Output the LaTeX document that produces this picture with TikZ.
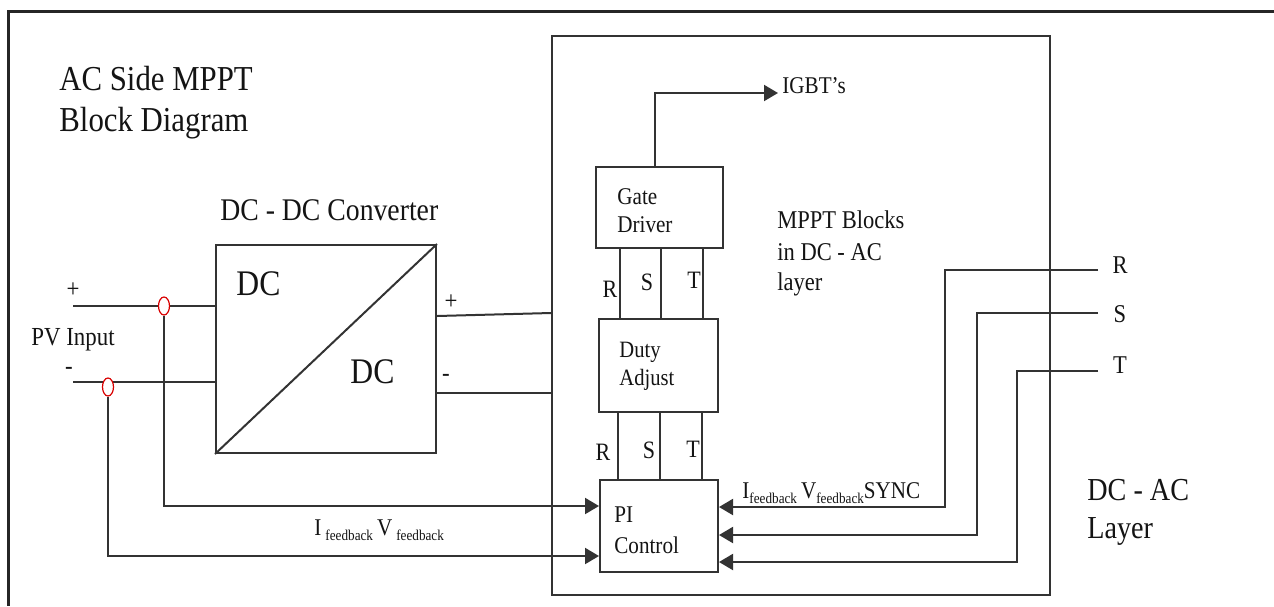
\documentclass[tikz,border=0pt]{standalone}
\usepackage{fontspec}
\setmainfont{Liberation Serif}[FakeStretch=0.88]
\usetikzlibrary{arrows.meta,fit,shapes.geometric}
\newcommand{\fsz}[1]{\fontsize{#1}{#1}\selectfont}
\newcommand{\sbx}[1]{\raisebox{-2.5pt}{\fontsize{7.5}{7.5}\selectfont #1}}
\begin{document}
\begin{tikzpicture}[x=0.5pt,y=-0.5pt,
  wire/.style={draw=black!80,line width=1pt},
  arr/.style={wire,-{Triangle[length=7pt,width=8pt]}},
  blk/.style={draw=black!80,line width=1pt,inner sep=0pt},
  lbl/.style={inner sep=0pt,anchor=base west,text=black!92},
  lblc/.style={inner sep=0pt,anchor=base,text=black!92},
  ring/.style={ellipse,draw=red!85!black,line width=0.6pt,fill=white,minimum width=5.5pt,minimum height=9pt,inner sep=0pt},
]
\useasboundingbox (0,0) rectangle (1274,606);
\fill[white] (0,0) rectangle (1274,606);
% outer frame (only top and left edges visible)
\coordinate (fTR) at (1274,11);
\coordinate (fTL) at (8,11);
\coordinate (fBL) at (8,606);
\draw[line width=1.5pt,black!85] (fTR) -- (fTL) -- (fBL);

% blocks
\node[blk,fit={(216,245)(436,453)}] (dcdc) {};
\node[blk,fit={(552,36)(1050,595)}] (mppt) {};
\node[blk,fit={(596,167)(723,248)}] (gate) {};
\node[blk,fit={(599,319)(718,412)}] (duty) {};
\node[blk,fit={(600,480)(718,572)}] (pi) {};
\draw[wire] (dcdc.south west) -- (dcdc.north east);

% helper coordinates
\coordinate (pinP) at (73,306);
\coordinate (pinN) at (73,382);
\coordinate (hI) at (0,506);
\coordinate (hV) at (0,556);
\coordinate (hOP1) at (0,316);
\coordinate (hOP2) at (0,313);
\coordinate (hON) at (0,393);
\coordinate (Rout) at (1098,270);
\coordinate (Sout) at (1098,313);
\coordinate (Tout) at (1098,371);
\coordinate (Rx) at (945,507);
\coordinate (Sx) at (977,535);
\coordinate (Tx) at (1017,562);

% PV input lines
\draw[wire] (pinP) -- (pinP -| dcdc.west);
\draw[wire] (pinN) -- (pinN -| dcdc.west);
\node[ring] (cI) at (164,306) {};
\node[ring] (cV) at (108,387) {};
\draw[arr] (cI.south) |- (pi.west |- hI);
\draw[arr] (cV.south) |- (pi.west |- hV);

% DC outputs
\draw[wire] (dcdc.east |- hOP1) -- (mppt.west |- hOP2);
\draw[wire] (dcdc.east |- hON) -- (mppt.west |- hON);

% R S T between blocks
\foreach \xx in {620,661,703}
  \draw[wire] (gate.south -| \xx,0) -- (duty.north -| \xx,0);
\foreach \xx in {618,660,702}
  \draw[wire] (duty.south -| \xx,0) -- (pi.north -| \xx,0);

% grid feedback
\draw[arr] (Rout) -| (Rx) -- (pi.east |- Rx);
\draw[arr] (Sout) -| (Sx) -- (pi.east |- Sx);
\draw[arr] (Tout) -| (Tx) -- (pi.east |- Tx);

% texts
\node[lbl,font=\fsz{17.5}] (t1) at (59,90) {AC Side MPPT};
\node[lbl,font=\fsz{17.5}] (t2) at (59,131) {Block Diagram};
\node[lbl,font=\fsz{15.75}] (t3) at (220,220) {DC - DC Converter};
\node[lbl,font=\fsz{18}] (dc1) at (236,295) {DC};
\node[lbl,font=\fsz{18}] (dc2) at (350,383) {DC};
\node[inner sep=0pt,font=\fsz{13},text=black!92] (pvp) at (73,290) {+};
\node[inner sep=0pt,font=\fsz{13},text=black!92] (pvm) at (69,371) {-};
\node[lbl,font=\fsz{13}] (pv) at (31,345) {PV Input};
\node[inner sep=0pt,font=\fsz{13},text=black!92] (op) at (451,302) {+};
\node[inner sep=0pt,font=\fsz{13},text=black!92] (om) at (446,378) {-};
\node[lbl,font=\fsz{12}] (fb1) at (314,535) {I\,\sbx{feedback}\,V\,\sbx{feedback}};
\node[lbl,font=\fsz{12}] (g1) at (617,204) {Gate};
\node[lbl,font=\fsz{12}] (g2) at (617,232) {Driver};
\node[lbl,font=\fsz{11.7}] (d1) at (619,357) {Duty};
\node[lbl,font=\fsz{11.7}] (d2) at (619,385) {Adjust};
\node[lbl,font=\fsz{12}] (p1) at (614,522) {PI};
\node[lbl,font=\fsz{12}] (p2) at (614,553) {Control};
\node[lbl,font=\fsz{12.8}] (m1) at (777,228) {MPPT Blocks};
\node[lbl,font=\fsz{12.8}] (m2) at (777,260) {in DC - AC};
\node[lbl,font=\fsz{12.8}] (m3) at (777,290) {layer};
\node[lbl,font=\fsz{12}] (igbt) at (782,93) {IGBT's};
\draw[arr] ([xshift=-2.5pt]gate.north) |- ([xshift=-2pt]igbt.base west);
\node[lblc,font=\fsz{12.5}] (ru) at (610,297) {R};
\node[lblc,font=\fsz{12.5}] (su) at (647,290) {S};
\node[lblc,font=\fsz{12.5}] (tu) at (694,288) {T};
\node[lblc,font=\fsz{12.5}] (rl) at (603,460) {R};
\node[lblc,font=\fsz{12.5}] (sl) at (649,458) {S};
\node[lblc,font=\fsz{12.5}] (tl) at (693,457) {T};
\node[lblc,font=\fsz{12.8}] (rr) at (1120,273) {R};
\node[lblc,font=\fsz{12.8}] (sr) at (1120,322) {S};
\node[lblc,font=\fsz{12.8}] (tr) at (1120,373) {T};
\node[lbl,font=\fsz{12}] (sync) at (742,498) {I\sbx{feedback}\,V\sbx{feedback}SYNC};
\node[lbl,font=\fsz{16}] (ac1) at (1087,500) {DC - AC};
\node[lbl,font=\fsz{16}] (ac2) at (1087,538) {Layer};
\end{tikzpicture}
\end{document}
